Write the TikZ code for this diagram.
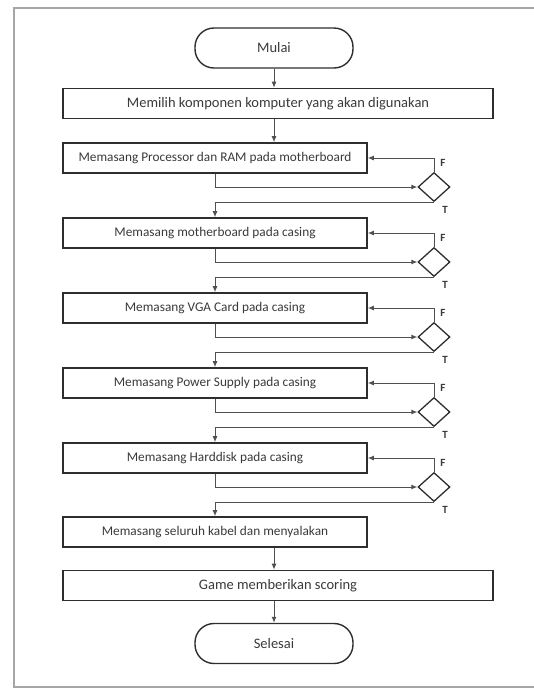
\documentclass[tikz,border=0pt]{standalone}
\usepackage{fontspec}
\setmainfont{Carlito}
\usepackage{tikz}
\usetikzlibrary{arrows.meta,positioning,shapes.geometric}
\definecolor{framegray}{HTML}{A6A6A6}
\definecolor{boxline}{HTML}{2E2E2E}
\definecolor{linkline}{HTML}{505050}
\definecolor{darktext}{HTML}{3A3A3A}
\tikzset{
  terminal/.style={draw=boxline,line width=1.4pt,rounded corners=19pt,minimum width=158pt,minimum height=40pt,align=center,font=\fontsize{14.5}{17}\selectfont,text=darktext},
  stepnode/.style={draw=boxline,line width=1.6pt,minimum width=304pt,minimum height=30pt,align=center,font=\fontsize{13.3}{16}\selectfont,text=darktext},
  widenode/.style={stepnode,minimum width=430pt,font=\fontsize{14.5}{17}\selectfont},
  checknode/.style={draw=boxline,line width=1.3pt,diamond,inner sep=0pt,minimum width=32pt,minimum height=29pt},
  arrow/.style={-{Latex[length=6pt,width=5pt]},line width=1pt,linkline},
  flag/.style={font=\fontsize{11}{13}\selectfont\bfseries,text=darktext,inner sep=0pt}
}

\begin{document}
\begin{tikzpicture}[x=1pt,y=-1pt]
  \useasboundingbox (0,0) rectangle (534,689);
  % frame
  \draw[framegray,line width=2pt] (540,8) -- (14,8) -- (14,687) -- (540,687);

  % start and first step
  \node[terminal] (mulai) at (274,48) {Mulai};
  \node[widenode] (pilih) at (278,103.5) {Memilih komponen komputer yang akan digunakan};

  % assembly steps
  \node[stepnode] (pasangcpu) at (215,158) {Memasang Processor dan RAM pada motherboard};
  \node[stepnode] (pasangmb) at (215,233) {Memasang motherboard pada casing};
  \node[stepnode] (pasangvga) at (215,308) {Memasang VGA Card pada casing};
  \node[stepnode] (pasangpsu) at (215,383) {Memasang Power Supply pada casing};
  \node[stepnode] (pasanghdd) at (215,458) {Memasang Harddisk pada casing};
  \node[stepnode] (kabel) at (215,532) {Memasang seluruh kabel dan menyalakan};

  % checks
  \node[checknode] (cekcpu) at (434,187) {};
  \node[checknode] (cekmb) at (434,262) {};
  \node[checknode] (cekvga) at (434,337) {};
  \node[checknode] (cekpsu) at (434,412) {};
  \node[checknode] (cekhdd) at (434,487) {};

  % end
  \node[widenode] (skor) at (278,585.5) {Game memberikan scoring};
  \node[terminal] (selesai) at (274,643.5) {Selesai};

  % main flow
  \draw[arrow] (mulai.south) -- (mulai.south |- pilih.north);
  \draw[arrow] (pilih.south -| mulai) -- (pasangcpu.north -| mulai);
  \draw[arrow] (kabel.south -| mulai) -- (skor.north -| mulai);
  \draw[arrow] (skor.south -| selesai) -- (selesai.north);

  % Processor dan RAM
  \draw[arrow] (pasangcpu.south) |- (cekcpu.west);
  \draw[arrow] (cekcpu.north) |- (pasangcpu.east);
  \draw[arrow] (cekcpu.south) -| (pasangmb.north);
  \node[flag] at ([shift={(9,-9)}]cekcpu.north) {F};
  \node[flag] at ([shift={(11,8)}]cekcpu.south) {T};

  % motherboard
  \draw[arrow] (pasangmb.south) |- (cekmb.west);
  \draw[arrow] (cekmb.north) |- (pasangmb.east);
  \draw[arrow] (cekmb.south) -| (pasangvga.north);
  \node[flag] at ([shift={(9,-9)}]cekmb.north) {F};
  \node[flag] at ([shift={(11,8)}]cekmb.south) {T};

  % VGA Card
  \draw[arrow] (pasangvga.south) |- (cekvga.west);
  \draw[arrow] (cekvga.north) |- (pasangvga.east);
  \draw[arrow] (cekvga.south) -| (pasangpsu.north);
  \node[flag] at ([shift={(9,-9)}]cekvga.north) {F};
  \node[flag] at ([shift={(11,8)}]cekvga.south) {T};

  % Power Supply
  \draw[arrow] (pasangpsu.south) |- (cekpsu.west);
  \draw[arrow] (cekpsu.north) |- (pasangpsu.east);
  \draw[arrow] (cekpsu.south) -| (pasanghdd.north);
  \node[flag] at ([shift={(9,-9)}]cekpsu.north) {F};
  \node[flag] at ([shift={(11,8)}]cekpsu.south) {T};

  % Harddisk
  \draw[arrow] (pasanghdd.south) |- (cekhdd.west);
  \draw[arrow] (cekhdd.north) |- (pasanghdd.east);
  \draw[arrow] (cekhdd.south) -| (kabel.north);
  \node[flag] at ([shift={(9,-9)}]cekhdd.north) {F};
  \node[flag] at ([shift={(11,8)}]cekhdd.south) {T};
\end{tikzpicture}
\end{document}
